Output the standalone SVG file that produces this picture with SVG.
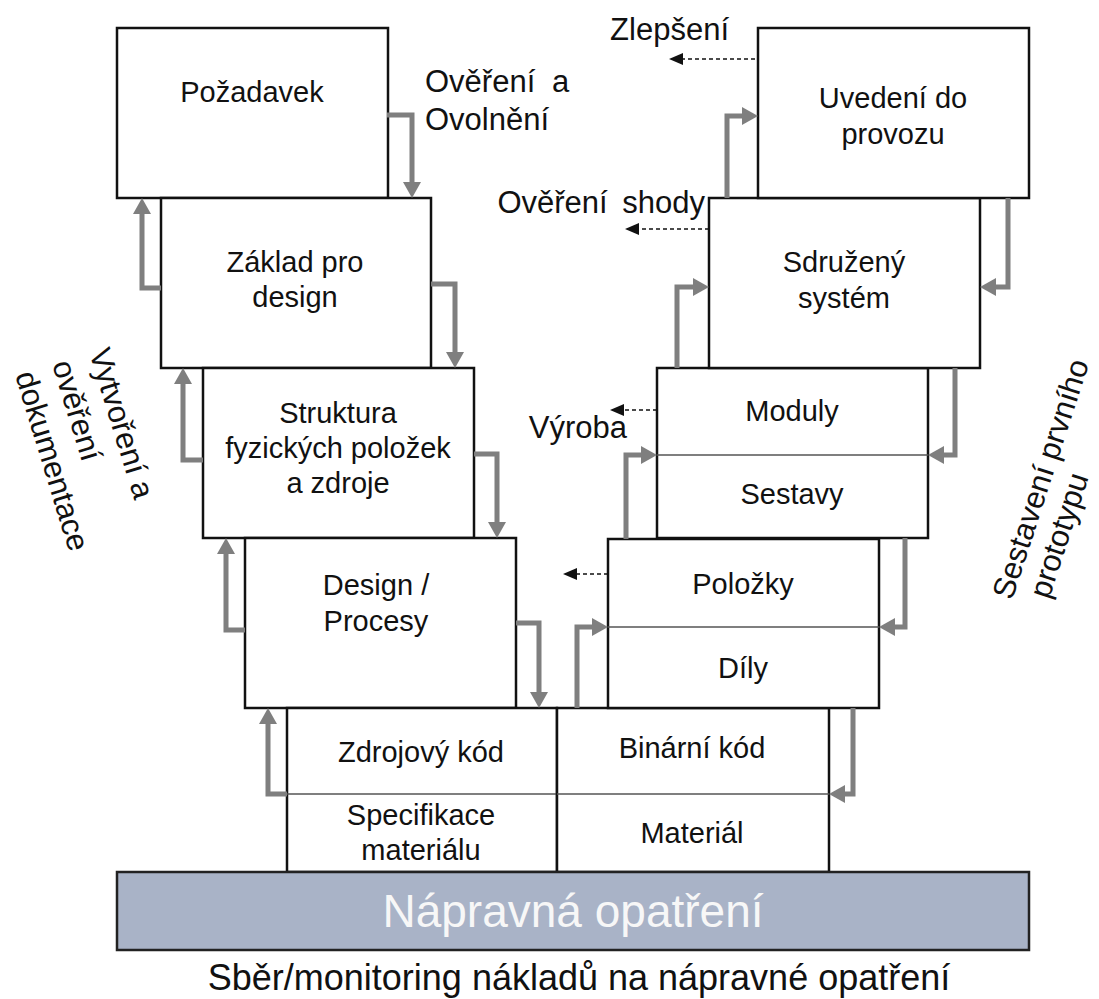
<svg xmlns="http://www.w3.org/2000/svg" width="1099" height="999" viewBox="0 0 1099 999">
  <style>
    .box { fill: #ffffff; stroke: #111111; stroke-width: 2.5; }
    .div { stroke: #555555; stroke-width: 1.3; fill: none; }
    .lbl { font-family: "Liberation Sans", Arial, sans-serif; font-size: 29px; fill: #111111; text-anchor: middle; }
    .side { font-family: "Liberation Sans", Arial, sans-serif; font-size: 31px; fill: #111111; }
    .flow { fill: none; stroke: #7f7f7f; stroke-width: 5; }
    .dash { fill: none; stroke: #111111; stroke-width: 1.4; stroke-dasharray: 4 3; }
  </style>
  <defs>
    <marker id="gh" markerUnits="userSpaceOnUse" markerWidth="16" markerHeight="18" refX="0" refY="9" orient="auto">
      <path d="M0,0 L16,9 L0,18 Z" fill="#7f7f7f"/>
    </marker>
    <marker id="dh" markerUnits="userSpaceOnUse" markerWidth="14" markerHeight="12" refX="0" refY="6" orient="auto">
      <path d="M0,0 L14,6 L0,12 Z" fill="#111111"/>
    </marker>
  </defs>

  <!-- left column -->
  <g id="pozadavek">
    <rect class="box" x="117" y="28" width="271" height="170"/>
    <text class="lbl" x="252" y="102">Požadavek</text>
  </g>
  <g id="zaklad">
    <rect class="box" x="161" y="198" width="270" height="170"/>
    <text class="lbl" x="295" y="272">Základ pro</text>
    <text class="lbl" x="295" y="307">design</text>
  </g>
  <g id="struktura">
    <rect class="box" x="203" y="368" width="271" height="170"/>
    <text class="lbl" x="338" y="423">Struktura</text>
    <text class="lbl" x="338" y="458">fyzických položek</text>
    <text class="lbl" x="338" y="493">a zdroje</text>
  </g>
  <g id="design">
    <rect class="box" x="245" y="538" width="271" height="170"/>
    <text class="lbl" x="376" y="595">Design /</text>
    <text class="lbl" x="376" y="631">Procesy</text>
  </g>

  <!-- base row -->
  <g id="zdrojovy">
    <rect class="box" x="287" y="708" width="270" height="164"/>
    <line class="div" x1="287" y1="794" x2="557" y2="794"/>
    <text class="lbl" x="421" y="762">Zdrojový kód</text>
    <text class="lbl" x="421" y="825">Specifikace</text>
    <text class="lbl" x="421" y="860">materiálu</text>
  </g>
  <g id="binarni">
    <rect class="box" x="557" y="708" width="272" height="164"/>
    <line class="div" x1="557" y1="794" x2="829" y2="794"/>
    <text class="lbl" x="692" y="758">Binární kód</text>
    <text class="lbl" x="692" y="843">Materiál</text>
  </g>

  <!-- right column -->
  <g id="polozky">
    <rect class="box" x="608" y="539" width="271" height="169"/>
    <line class="div" x1="608" y1="627" x2="879" y2="627"/>
    <text class="lbl" x="743" y="594">Položky</text>
    <text class="lbl" x="743" y="678">Díly</text>
  </g>
  <g id="moduly">
    <rect class="box" x="657" y="368" width="271" height="170"/>
    <line class="div" x1="657" y1="455" x2="928" y2="455"/>
    <text class="lbl" x="792" y="421">Moduly</text>
    <text class="lbl" x="792" y="504">Sestavy</text>
  </g>
  <g id="sdruzeny">
    <rect class="box" x="709" y="198" width="271" height="170"/>
    <text class="lbl" x="844" y="272">Sdružený</text>
    <text class="lbl" x="844" y="308">systém</text>
  </g>
  <g id="uvedeni">
    <rect class="box" x="758" y="28" width="271" height="170"/>
    <text class="lbl" x="893" y="108">Uvedení do</text>
    <text class="lbl" x="893" y="144">provozu</text>
  </g>

  <!-- corrective action bar -->
  <g id="napravna">
    <rect x="117" y="872" width="912" height="78" fill="#a9b3c7" stroke="#222222" stroke-width="2.5"/>
    <text x="573" y="927" font-family="Liberation Sans, Arial, sans-serif" font-size="46" fill="#f7f7f7" text-anchor="middle">Nápravná opatření</text>
  </g>

  <!-- connectors -->
  <g id="connectors">
    <!-- descending side: right edge down to next box -->
    <path class="flow" marker-end="url(#gh)" d="M387,115 H412 V182"/>
    <path class="flow" marker-end="url(#gh)" d="M431,284 H455 V352"/>
    <path class="flow" marker-end="url(#gh)" d="M474,454 H497 V522"/>
    <path class="flow" marker-end="url(#gh)" d="M516,623 H539 V692"/>
    <!-- descending side: feedback upward -->
    <path class="flow" marker-end="url(#gh)" d="M161,288 H142 V214"/>
    <path class="flow" marker-end="url(#gh)" d="M203,460 H183 V384"/>
    <path class="flow" marker-end="url(#gh)" d="M245,630 H226 V554"/>
    <path class="flow" marker-end="url(#gh)" d="M287,794 H268 V724"/>
    <!-- ascending side: integration upward -->
    <path class="flow" marker-end="url(#gh)" d="M577,708 V627 H592"/>
    <path class="flow" marker-end="url(#gh)" d="M626,539 V455 H641"/>
    <path class="flow" marker-end="url(#gh)" d="M677,368 V287 H693"/>
    <path class="flow" marker-end="url(#gh)" d="M727,198 V116 H742"/>
    <!-- ascending side: feedback downward -->
    <path class="flow" marker-end="url(#gh)" d="M1008,198 V287 H996"/>
    <path class="flow" marker-end="url(#gh)" d="M955,368 V455 H944"/>
    <path class="flow" marker-end="url(#gh)" d="M905,538 V627 H895"/>
    <path class="flow" marker-end="url(#gh)" d="M853,708 V794 H845"/>
    <!-- dashed outputs -->
    <path class="dash" marker-end="url(#dh)" d="M755,59 H683"/>
    <path class="dash" marker-end="url(#dh)" d="M709,229 H639"/>
    <path class="dash" marker-end="url(#dh)" d="M657,410 H624"/>
    <path class="dash" marker-end="url(#dh)" d="M608,574 H577"/>
  </g>

  <!-- side labels -->
  <g id="labels">
    <text class="side" x="425" y="92" word-spacing="8">Ověření a</text>
    <text class="side" x="425" y="130">Ovolnění</text>
    <text class="side" x="729" y="40" text-anchor="end">Zlepšení</text>
    <text class="side" x="705" y="213" text-anchor="end" word-spacing="6">Ověření shody</text>
    <text class="side" x="627" y="438" text-anchor="end">Výroba</text>
    <text class="side" font-size="32" transform="translate(89,352) rotate(73)">Vytvoření a</text>
    <text class="side" font-size="32" transform="translate(52,364) rotate(73)">ověření</text>
    <text class="side" font-size="32" transform="translate(15,375) rotate(73)">dokumentace</text>
    <text class="side" transform="translate(1012,601) rotate(-72)">Sestavení prvního</text>
    <text class="side" font-size="30" transform="translate(1049,600) rotate(-72)">prototypu</text>
    <text x="579" y="990" font-family="Liberation Sans, Arial, sans-serif" font-size="36" fill="#111111" text-anchor="middle">Sběr/monitoring nákladů na nápravné opatření</text>
  </g>
</svg>
